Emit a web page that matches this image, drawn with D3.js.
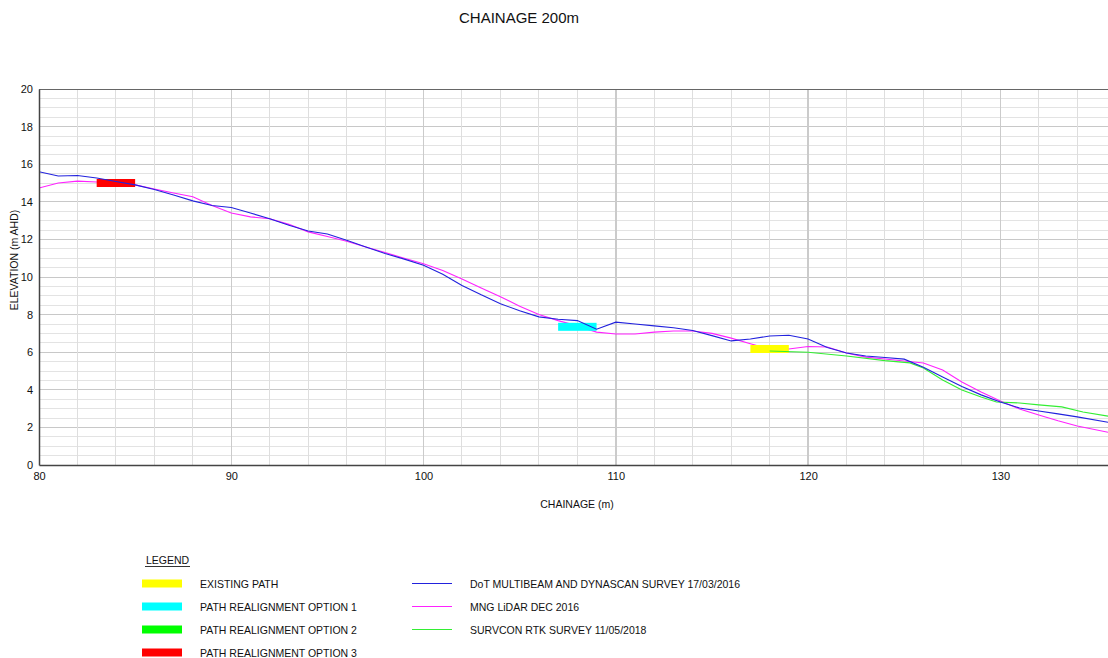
<!DOCTYPE html>
<html>
<head>
<meta charset="utf-8">
<script src="https://cdn.jsdelivr.net/npm/d3@7"></script>
<style>
  html, body { margin: 0; padding: 0; background: #fff; }
  svg { display: block; font-family: "Liberation Sans", Arial, sans-serif; }
</style>
</head>
<body>
<svg id="chart" width="1108" height="658"></svg>
<script>
// Survey profiles along the cross-section at chainage 200 m
const dotChainage = [80, 81, 82, 83, 84, 85, 86, 87, 88, 89, 90, 91, 92, 93, 94, 95, 96, 97, 98, 99,
  100, 101, 102, 103, 104, 105, 106, 107, 108, 109, 110, 111, 112, 113, 114, 115, 116, 117, 118, 119,
  120, 121, 122, 123, 124, 125, 126, 127, 128, 129, 130, 131, 132, 133, 134, 135.6];
const dotElevation = [15.6, 15.37, 15.4, 15.27, 15.08, 14.9, 14.65, 14.36, 14.05, 13.8, 13.7, 13.4, 13.1, 12.75, 12.45, 12.29, 11.95, 11.6, 11.25, 10.95,
  10.62, 10.15, 9.55, 9.05, 8.58, 8.2, 7.88, 7.75, 7.68, 7.22, 7.6, 7.5, 7.4, 7.3, 7.15, 6.88, 6.6, 6.7, 6.86, 6.9,
  6.7, 6.25, 5.96, 5.8, 5.72, 5.63, 5.2, 4.68, 4.18, 3.73, 3.35, 3.03, 2.87, 2.72, 2.56, 2.27];

const lidarChainage = [80, 81, 82, 83, 84, 85, 86, 87, 88, 89, 90, 91, 92, 93, 94, 95, 96, 97, 98, 99,
  100, 101, 102, 103, 104, 105, 106, 107, 108, 109, 110, 111, 112, 113, 114, 115, 116, 117, 118, 119,
  120, 121, 122, 123, 124, 125, 126, 127, 128, 129, 130, 131, 132, 133, 134, 135.6];
const lidarElevation = [14.73, 15.0, 15.1, 15.05, 15.0, 14.9, 14.68, 14.47, 14.27, 13.8, 13.4, 13.2, 13.1, 12.8, 12.4, 12.15, 11.9, 11.6, 11.3, 11.0,
  10.7, 10.35, 9.9, 9.42, 8.95, 8.45, 8.0, 7.68, 7.4, 7.07, 6.97, 6.97, 7.07, 7.13, 7.13, 7.0, 6.75, 6.45, 6.17, 6.17,
  6.3, 6.28, 5.96, 5.74, 5.64, 5.53, 5.43, 5.05, 4.42, 3.88, 3.4, 2.98, 2.66, 2.35, 2.07, 1.74];

const rtkChainage = [118, 120, 122, 124, 125.3, 126, 127, 128, 129, 129.8, 131, 132, 133.2, 134.3, 135.6];
const rtkElevation = [6.06, 6.0, 5.8, 5.55, 5.43, 5.16, 4.52, 3.99, 3.62, 3.35, 3.3, 3.2, 3.09, 2.82, 2.6];

// Path options: start chainage, end chainage, elevation
const pathNames = ["EXISTING PATH", "PATH REALIGNMENT OPTION 1", "PATH REALIGNMENT OPTION 2", "PATH REALIGNMENT OPTION 3"];
const pathColors = ["#ffff00", "#00ffff", "#00ff00", "#ff0000"];
const pathStart = [117, 107, null, 83];
const pathEnd = [119, 109, null, 85];
const pathElevation = [6.17, 7.35, null, 15.0];

const surveyNames = ["DoT MULTIBEAM AND DYNASCAN SURVEY 17/03/2016", "MNG LiDAR DEC 2016", "SURVCON RTK SURVEY 11/05/2018"];
const surveyColors = ["#2222dd", "#ff22ff", "#33ee33"];

const xTicks = [80, 90, 100, 110, 120, 130];
const yTicks = [0, 2, 4, 6, 8, 10, 12, 14, 16, 18, 20];

const svg = d3.select("#chart");
const plotLeft = 39, plotRight = 1108, plotTop = 89, plotBottom = 465;

const x = d3.scaleLinear().domain([80, 135.6]).range([plotLeft, plotRight]);
const y = d3.scaleLinear().domain([0, 20]).range([plotBottom, plotTop]);

// Grid
const grid = svg.append("g").attr("shape-rendering", "crispEdges");
grid.selectAll("line.hminor").data(d3.range(0.5, 20, 0.5).filter(v => v % 2 !== 0))
  .enter().append("line")
  .attr("x1", plotLeft).attr("x2", plotRight)
  .attr("y1", d => y(d)).attr("y2", d => y(d))
  .attr("stroke", "#e3e3e3").attr("stroke-width", 1);
grid.selectAll("line.hmajor").data(d3.range(2, 20, 2))
  .enter().append("line")
  .attr("x1", plotLeft).attr("x2", plotRight)
  .attr("y1", d => y(d)).attr("y2", d => y(d))
  .attr("stroke", "#c8c8c8").attr("stroke-width", 1);
grid.selectAll("line.vminor").data(d3.range(82, 136, 2).filter(v => v % 10 !== 0))
  .enter().append("line")
  .attr("x1", d => x(d)).attr("x2", d => x(d))
  .attr("y1", plotTop).attr("y2", plotBottom)
  .attr("stroke", "#dedede").attr("stroke-width", 1);
grid.selectAll("line.vmajor").data(xTicks.slice(1))
  .enter().append("line")
  .attr("x1", d => x(d)).attr("x2", d => x(d))
  .attr("y1", plotTop).attr("y2", plotBottom)
  .attr("stroke", "#cbcbcb").attr("stroke-width", 1.5);

// Top frame line
grid.append("line").attr("x1", plotLeft).attr("x2", plotRight).attr("y1", plotTop).attr("y2", plotTop)
  .attr("stroke", "#666").attr("stroke-width", 1);

// Clip for plotted data
svg.append("clipPath").attr("id", "plotClip")
  .append("rect").attr("x", plotLeft).attr("y", plotTop).attr("width", plotRight - plotLeft).attr("height", plotBottom - plotTop);
const plot = svg.append("g").attr("clip-path", "url(#plotClip)");

const line = d3.line().x(d => x(d[0])).y(d => y(d[1]));

// LiDAR surface sits beneath the path bars
plot.append("path")
  .datum(d3.zip(lidarChainage, lidarElevation))
  .attr("d", line).attr("fill", "none")
  .attr("stroke", surveyColors[1]).attr("stroke-width", 1.1);

// Path option bars
const bars = d3.range(pathNames.length).filter(i => pathStart[i] !== null);
plot.selectAll("rect.path").data(bars).enter().append("rect")
  .attr("x", i => x(pathStart[i]))
  .attr("width", i => x(pathEnd[i]) - x(pathStart[i]))
  .attr("y", i => y(pathElevation[i]) - 4)
  .attr("height", 8)
  .attr("fill", i => pathColors[i]);

// RTK and multibeam surveys on top
plot.append("path")
  .datum(d3.zip(rtkChainage, rtkElevation))
  .attr("d", line).attr("fill", "none")
  .attr("stroke", surveyColors[2]).attr("stroke-width", 1.1);
plot.append("path")
  .datum(d3.zip(dotChainage, dotElevation))
  .attr("d", line).attr("fill", "none")
  .attr("stroke", surveyColors[0]).attr("stroke-width", 1.1);

// Axes
const xAxis = d3.axisBottom(x).tickValues(xTicks).tickSize(0).tickPadding(7).tickFormat(d3.format("d"));
const gx = svg.append("g").attr("transform", `translate(0,${plotBottom})`).call(xAxis);
gx.select(".domain").attr("stroke", "#444").attr("stroke-width", 1.5);
gx.selectAll("text").attr("font-size", 11).attr("fill", "#111").attr("font-family", "Liberation Sans, Arial, sans-serif");

const yAxis = d3.axisLeft(y).tickValues(yTicks).tickSize(0).tickPadding(6).tickFormat(d3.format("d"));
const gy = svg.append("g").attr("transform", `translate(${plotLeft},0)`).call(yAxis);
gy.select(".domain").attr("stroke", "#444").attr("stroke-width", 1.5);
gy.selectAll("text").attr("font-size", 11).attr("fill", "#111").attr("font-family", "Liberation Sans, Arial, sans-serif");

// Titles
svg.append("text").attr("x", 519).attr("y", 23).attr("text-anchor", "middle")
  .attr("font-size", 15).attr("fill", "#111").text("CHAINAGE 200m");
svg.append("text").attr("x", 577).attr("y", 508).attr("text-anchor", "middle")
  .attr("font-size", 10.5).attr("fill", "#111").text("CHAINAGE (m)");
svg.append("text").attr("transform", "translate(18,260) rotate(-90)").attr("text-anchor", "middle")
  .attr("font-size", 10.5).attr("fill", "#111").text("ELEVATION (m AHD)");

// Legend
const legend = svg.append("g");
legend.append("text").attr("x", 146).attr("y", 564).attr("font-size", 10.5).attr("fill", "#111").text("LEGEND");
legend.append("line").attr("x1", 145).attr("x2", 190).attr("y1", 566.5).attr("y2", 566.5)
  .attr("stroke", "#333").attr("stroke-width", 1);

const rowY = i => 583.5 + i * 23;
legend.selectAll("rect.sw").data(pathNames).enter().append("rect")
  .attr("x", 142).attr("y", (d, i) => rowY(i) - 4).attr("width", 40).attr("height", 8)
  .attr("fill", (d, i) => pathColors[i]);
legend.selectAll("text.pn").data(pathNames).enter().append("text")
  .attr("x", 200).attr("y", (d, i) => rowY(i) + 4).attr("font-size", 10.5).attr("fill", "#111")
  .text(d => d);

legend.selectAll("line.sw").data(surveyNames).enter().append("line")
  .attr("x1", 412).attr("x2", 452).attr("y1", (d, i) => rowY(i)).attr("y2", (d, i) => rowY(i))
  .attr("stroke", (d, i) => surveyColors[i]).attr("stroke-width", 1.1);
legend.selectAll("text.sn").data(surveyNames).enter().append("text")
  .attr("x", 470).attr("y", (d, i) => rowY(i) + 4).attr("font-size", 10.5).attr("fill", "#111")
  .text(d => d);
</script>
</body>
</html>
